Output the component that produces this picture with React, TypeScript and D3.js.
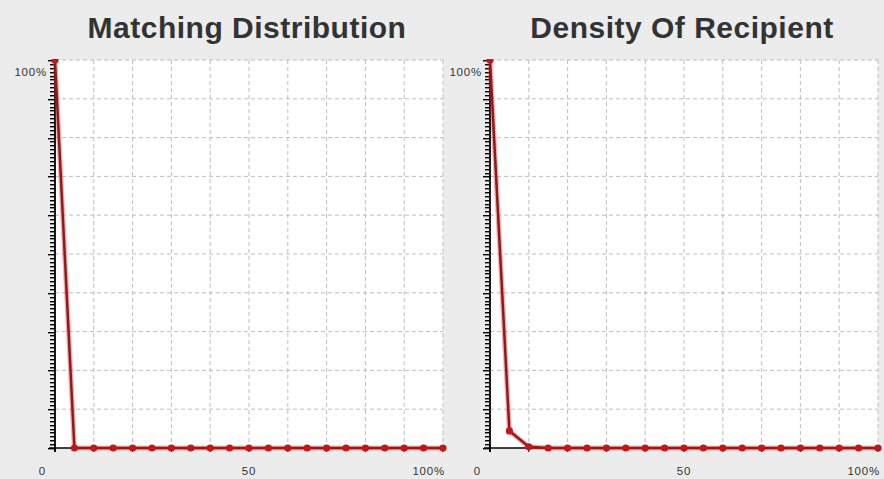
import React from 'react';
import * as d3 from 'd3';

// x positions (% of range) where samples are taken
const xPct = [0, 5, 10, 15, 20, 25, 30, 35, 40, 45, 50, 55, 60, 65, 70, 75, 80, 85, 90, 95, 100];
const matching = [100, 0, 0, 0, 0, 0, 0, 0, 0, 0, 0, 0, 0, 0, 0, 0, 0, 0, 0, 0, 0];
const density = [100, 4.4, 0.3, 0, 0, 0, 0, 0, 0, 0, 0, 0, 0, 0, 0, 0, 0, 0, 0, 0, 0];

const gridSteps = [10, 20, 30, 40, 50, 60, 70, 80, 90, 100];
const majorTicks = [0, 10, 20, 30, 40, 50, 60, 70, 80, 90, 100];
const xLabels = [
  { v: 0, text: '0' },
  { v: 50, text: '50' },
  { v: 100, text: '100%' },
];

const panels = [
  { title: 'Matching Distribution', values: matching, left: 55, right: 443 },
  { title: 'Density Of Recipient', values: density, left: 490, right: 878 },
];

const TOP = 60;
const BOTTOM = 448;
const FONT = '"Liberation Sans", Arial, sans-serif';

const Panel: React.FC<{ title: string; values: number[]; left: number; right: number; idx: number }> = ({
  title, values, left, right, idx,
}) => {
  const x = d3.scaleLinear().domain([0, 100]).range([left, right]);
  const y = d3.scaleLinear().domain([0, 100]).range([BOTTOM, TOP]);
  const pts: [number, number][] = xPct.map((p, i) => [p, values[i]]);
  const line = d3.line<[number, number]>().x(d => x(d[0])).y(d => y(d[1]));
  const minor = d3.range(0, 101, 1);
  const clipId = `clip-${idx}`;

  return (
    <g>
      <text x={(left + right) / 2 - 2} y={38} textAnchor="middle" fontFamily={FONT}
        fontWeight="bold" fontSize={30} letterSpacing={0.5} fill="#333">{title}</text>
      <rect x={left} y={TOP} width={right - left} height={BOTTOM - TOP} fill="#fff" />
      {gridSteps.map(g => (
        <line key={'v' + g} x1={x(g)} x2={x(g)} y1={TOP} y2={BOTTOM}
          stroke="#bdbdbd" strokeDasharray="4,3" strokeWidth={1} />
      ))}
      {gridSteps.map(g => (
        <line key={'h' + g} x1={left} x2={right} y1={y(g)} y2={y(g)}
          stroke="#bdbdbd" strokeDasharray="4,3" strokeWidth={1} />
      ))}
      {/* y axis with minor ticks */}
      {minor.map(m => (
        <rect key={'m' + m} x={left - (m % 10 === 0 ? 7 : 5)} y={Math.round(y(m))}
          width={m % 10 === 0 ? 7 : 5} height={1.4} fill="#000" />
      ))}
      <line x1={left} x2={left} y1={TOP} y2={BOTTOM + 4} stroke="#000" strokeWidth={1.8} />
      {/* x axis */}
      <line x1={left - 6} x2={right} y1={BOTTOM} y2={BOTTOM} stroke="#000" strokeWidth={1.5} />
      {majorTicks.map(t => (
        <line key={'t' + t} x1={x(t)} x2={x(t)} y1={BOTTOM} y2={BOTTOM + 4} stroke="#000" strokeWidth={1} />
      ))}
      <text x={left - 8} y={y(100) + 16} textAnchor="end" fontFamily={FONT} fontSize={11.5}
        letterSpacing={0.8} fill="#333">100%</text>
      {xLabels.map(l => (
        <text key={l.text} x={l.v === 0 ? x(0) - 9 : l.v === 100 ? x(100) + 2 : x(l.v)} y={475}
          textAnchor={l.v === 50 ? 'middle' : 'end'} fontFamily={FONT} fontSize={11.5}
          letterSpacing={0.8} fill="#333">{l.text}</text>
      ))}
      <defs>
        <clipPath id={clipId}>
          <rect x={left - 10} y={TOP - 1} width={right - left + 20} height={BOTTOM - TOP + 20} />
        </clipPath>
      </defs>
      <g clipPath={`url(#${clipId})`}>
        <path d={line(pts) || ''} fill="none" stroke="rgba(235,50,50,0.4)" strokeWidth={5} />
        <path d={line(pts) || ''} fill="none" stroke="#8c1c1c" strokeWidth={2.5} />
        {pts.map((d, i) => (
          <circle key={i} cx={x(d[0])} cy={y(d[1])} r={3.6} fill="#c01818" />
        ))}
      </g>
    </g>
  );
};

export default function App() {
  return (
    <div style={{ position: 'fixed', left: 0, top: 0 }}>
      <svg width={884} height={479} style={{ display: 'block' }}>
        <rect x={0} y={0} width={884} height={479} fill="#ececec" />
        {panels.map((p, i) => (
          <Panel key={p.title} idx={i} {...p} />
        ))}
      </svg>
    </div>
  );
}
